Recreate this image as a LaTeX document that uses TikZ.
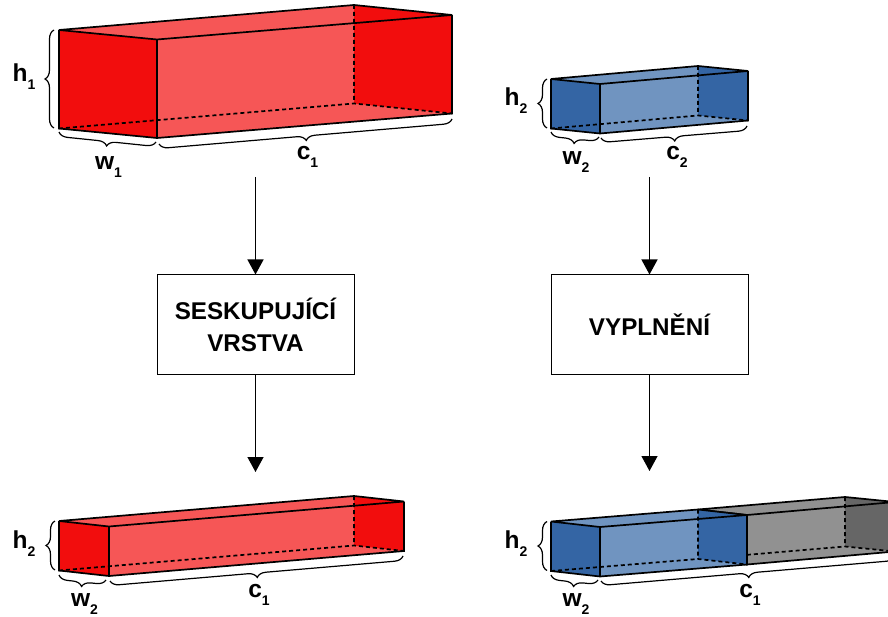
\documentclass[tikz,border=0pt]{standalone}
\usepackage{fontspec}
\setmainfont{Liberation Sans}
\usetikzlibrary{arrows.meta,decorations.pathreplacing,calc}
\definecolor{reddark}{HTML}{F20D0D}
\definecolor{redlight}{HTML}{F65656}
\definecolor{bluedark}{HTML}{3465A4}
\definecolor{bluelight}{HTML}{7094C0}
\definecolor{graydark}{HTML}{666666}
\definecolor{graylight}{HTML}{919191}
\tikzset{
  edge/.style={line width=1.7pt,line join=miter},
  hidden/.style={line width=1.7pt,dash pattern=on 4pt off 3pt},
  bracket/.style={line width=1.2pt,decorate,decoration={brace,amplitude=9pt}},
  flow/.style={line width=1.3pt,-{Triangle[length=15pt,width=16pt]}},
  stepbox/.style={draw,line width=1pt,fill=white,minimum width=197pt,minimum height=99pt,inner sep=0pt,align=center,font=\fontsize{24.2}{32}\selectfont\bfseries},
  dim/.style={inner sep=0pt,font=\fontsize{24.5}{26}\selectfont\bfseries}
}
% dark, light, height, A (front-left top), B (front-right top), C (right top), D (back top)
\newcommand{\cuboid}[7]{%
  \coordinate (A) at (#4); \coordinate (B) at (#5); \coordinate (C) at (#6); \coordinate (D) at (#7);
  \coordinate (Ab) at ($(A)+(0,#3)$); \coordinate (Bb) at ($(B)+(0,#3)$);
  \coordinate (Cb) at ($(C)+(0,#3)$); \coordinate (Db) at ($(D)+(0,#3)$);
  \fill[#2] (A)--(B)--(C)--(D)--cycle;
  \fill[#2] (B)--(C)--(Cb)--(Bb)--cycle;
  \fill[#1] (A)--(B)--(Bb)--(Ab)--cycle;
  \fill[#1] (D)--(C)--(Cb)--(Db)--cycle;
  \draw[hidden] (D)--(Db) (Ab)--(Db)--(Cb);
  \draw[edge] (D)--(A)--(B)--(C)--(D);
  \draw[edge] (A)--(Ab)--(Bb)--(Cb)--(C) (B)--(Bb);
}
\newcommand{\lbl}[2]{#1\raisebox{-0.32em}{\fontsize{14}{14}\selectfont #2}}
\begin{document}
\begin{tikzpicture}[x=1pt,y=-1pt]
\useasboundingbox (0,0) rectangle (888,617);
\clip (0,0) rectangle (888,617);
% top-left block
\cuboid{reddark}{redlight}{98.5}{59,30}{157,39.5}{452,15}{354,5}
\coordinate (h1a) at (54,128); \coordinate (h1b) at (54,30);
\draw[bracket] (h1a)--(h1b);
\coordinate (w1a) at (156,142); \coordinate (w1b) at (59,132);
\draw[bracket] (w1a)--(w1b);
\coordinate (c1a) at (452,119); \coordinate (c1b) at (159,144);
\draw[bracket] (c1a)--(c1b);
\node[dim] (lh1) at (24,77) {\lbl{h}{1}};
\node[dim] (lw1) at (108.5,167) {\lbl{w}{1}};
\node[dim] (lc1) at (307.5,157) {\lbl{c}{1}};
% top-right block
\cuboid{bluedark}{bluelight}{49.5}{551,79}{600,84}{748,71}{698,66}
\coordinate (h2a) at (547,128); \coordinate (h2b) at (547,79);
\draw[bracket] (h2a)--(h2b);
\coordinate (w2a) at (599,137); \coordinate (w2b) at (551,132);
\draw[bracket] (w2a)--(w2b);
\coordinate (c2a) at (747,126); \coordinate (c2b) at (601,138);
\draw[bracket] (c2a)--(c2b);
\node[dim] (lh2) at (516,101) {\lbl{h}{2}};
\node[dim] (lw2) at (576,162) {\lbl{w}{2}};
\node[dim] (lc2) at (677,157) {\lbl{c}{2}};
% step boxes
\node[stepbox] (group) at (255.5,324.5) {SESKUPUJÍCÍ\\VRSTVA};
\node[stepbox] (pad) at (649.5,324.5) {VYPLNĚNÍ};
\coordinate (g0) at (255.5,177); \coordinate (g1) at (255.5,472);
\coordinate (p0) at (649.5,177); \coordinate (p1) at (649.5,471);
\draw[flow] (g0)--(group.north);
\draw[flow] (group.south)--(g1);
\draw[flow] (p0)--(pad.north);
\draw[flow] (pad.south)--(p1);
% bottom-left block
\cuboid{reddark}{redlight}{49.5}{59,521}{109,526.5}{404,501.5}{354,496}
\coordinate (h3a) at (55,570); \coordinate (h3b) at (55,521);
\draw[bracket] (h3a)--(h3b);
\coordinate (w3a) at (106,580); \coordinate (w3b) at (59,575);
\draw[bracket] (w3a)--(w3b);
\coordinate (c3a) at (403,556); \coordinate (c3b) at (110,581);
\draw[bracket] (c3a)--(c3b);
\node[dim] (lh3) at (24,544) {\lbl{h}{2}};
\node[dim] (lw3) at (84.5,604) {\lbl{w}{2}};
\node[dim] (lc3) at (259,595) {\lbl{c}{1}};
% bottom-right block
\cuboid{graydark}{graylight}{49.5}{698,509.5}{747,515}{895,502}{845,497}
\cuboid{bluedark}{bluelight}{49.5}{551,521.5}{600,527}{747,515}{698,509.5}
\coordinate (h4a) at (547,570.5); \coordinate (h4b) at (547,521.5);
\draw[bracket] (h4a)--(h4b);
\coordinate (w4a) at (598,580); \coordinate (w4b) at (551,575);
\draw[bracket] (w4a)--(w4b);
\coordinate (c4a) at (895,556); \coordinate (c4b) at (601,581);
\draw[bracket] (c4a)--(c4b);
\node[dim] (lh4) at (516,544) {\lbl{h}{2}};
\node[dim] (lw4) at (576,604) {\lbl{w}{2}};
\node[dim] (lc4) at (750,595) {\lbl{c}{1}};
\end{tikzpicture}
\end{document}
